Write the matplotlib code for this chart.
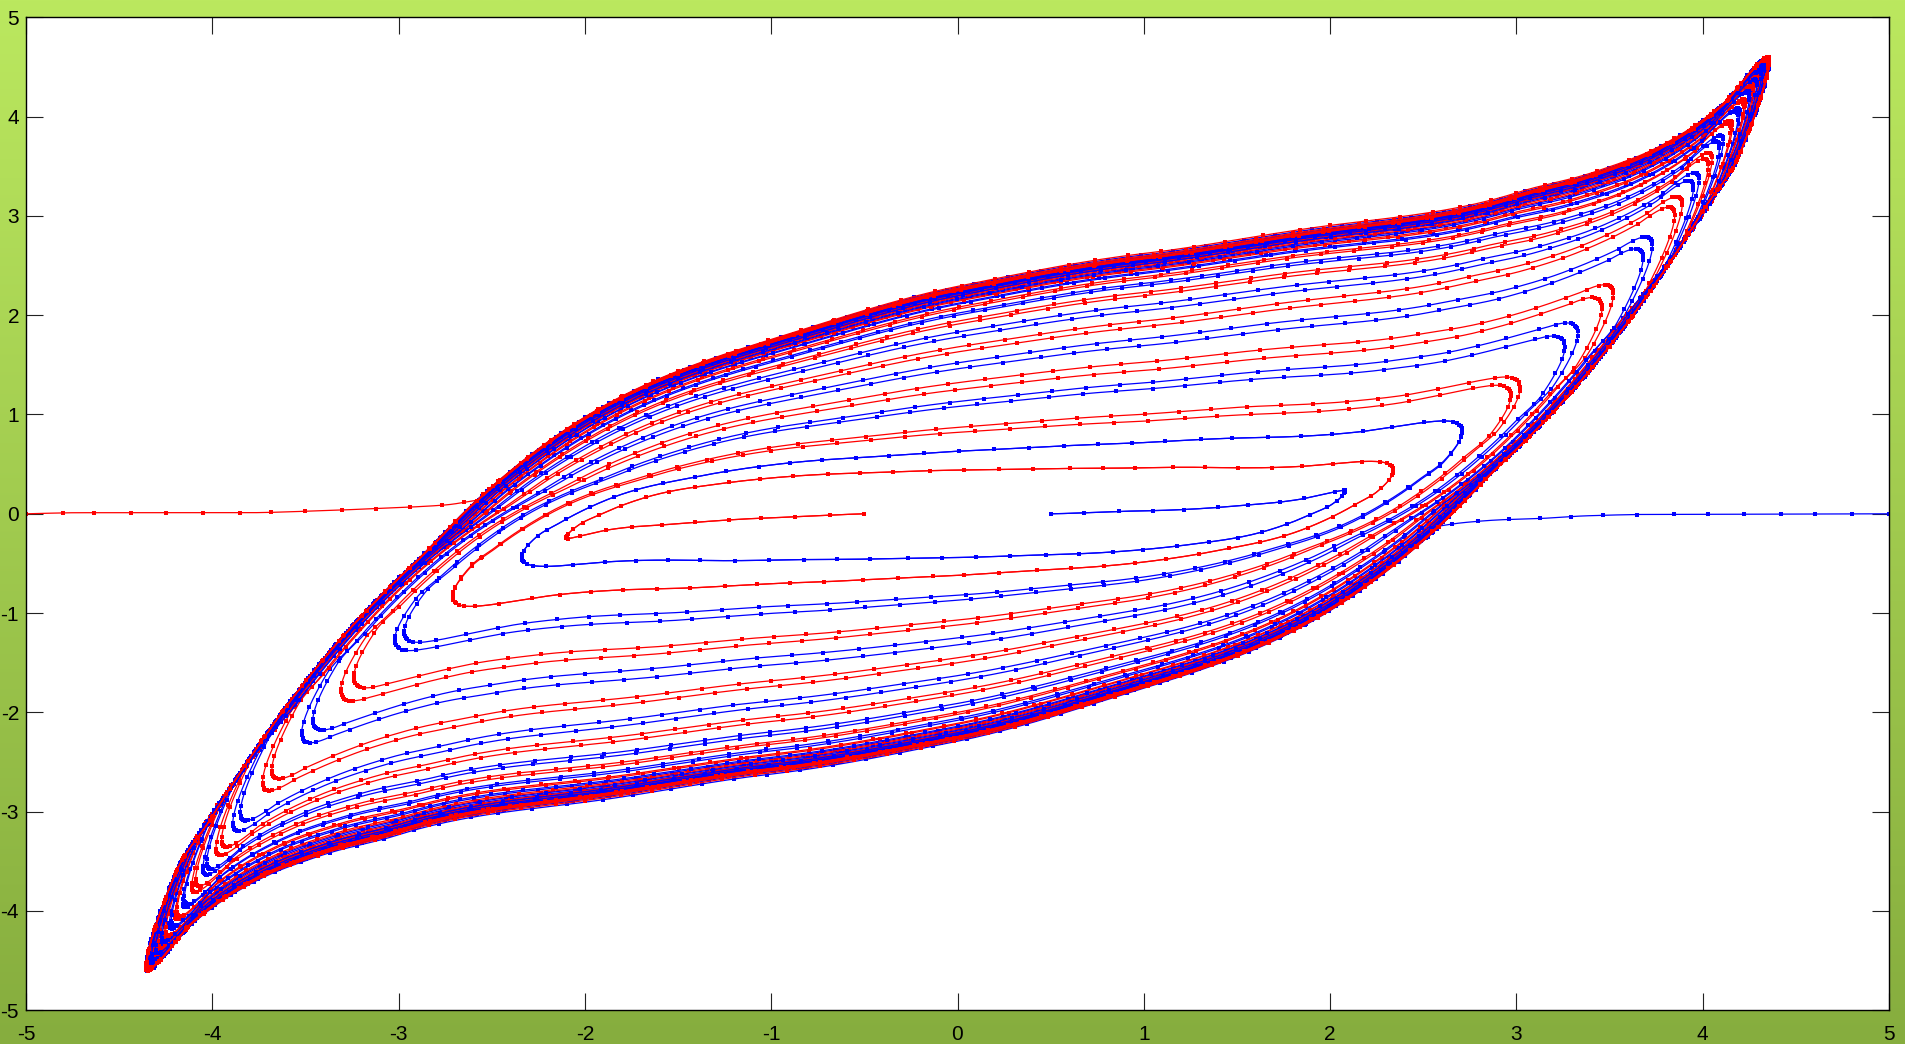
import numpy as np
import matplotlib
matplotlib.use("Agg")
import matplotlib.pyplot as plt

# ---------------------------------------------------------------------------
# Phase portrait data (x horizontal, y vertical)
# ---------------------------------------------------------------------------
# x-nullcline on which every trajectory turns: y = NC3*x^3 - NC1*x
NC3, NC1 = 0.0638, 0.1644

# upper branch of the limit cycle (moving right); the lower branch is its point image
cycle_top_x = [-4.35, -4.18, -4.00, -3.64, -3.28, -2.93, -2.57, -2.00, -1.00, 0.00,
               1.00, 2.00, 3.00, 3.42, 3.78, 4.13, 4.35]
cycle_top_y = [-4.54, -3.55, -3.05, -2.04, -1.20, -0.53, 0.14, 0.95, 1.72, 2.24,
               2.56, 2.84, 3.18, 3.40, 3.68, 4.15, 4.54]

# first upper pass of the inner red trajectory
inner_top_x = [-2.10, -2.02, -1.92, -1.69, -1.28, -0.59, 0.00, 0.71, 1.30, 1.88, 2.34]
inner_top_y = [-0.246, -0.094, -0.006, 0.16, 0.307, 0.414, 0.45, 0.47, 0.48, 0.49, 0.433]

# inner red trajectory: start piece from (-0.5, 0)
red_start_x = [-0.50, -1.00, -1.50, -1.90, -2.10]
red_start_y = [0.00, -0.04, -0.10, -0.17, -0.246]
# turning points (x) and height at x = 0 of each pass between them
red_a_turn_x = [-2.10, 2.34, -2.71, 3.02, -3.31, 3.52, -3.73, 3.89, -3.98, 4.05, -4.11, 4.16,
                -4.20, 4.23, -4.26, 4.28, -4.30, 4.31, -4.32, 4.33, -4.335, 4.34, -4.343,
                4.346, -4.348, 4.35]
red_a_mid_y = [0.44, -0.62, 0.87, -1.12, 1.32, -1.50, 1.68, -1.82, 1.94, -2.02, 2.08, -2.12,
               2.15, -2.17, 2.19, -2.20, 2.21, -2.22, 2.225, -2.23, 2.233, -2.236, 2.238,
               -2.239, 2.24]
red_b_turn_x = [-2.10, 2.34, -2.71, 2.97, -3.24, 3.46, -3.68, 3.85, -3.95, 4.03, -4.09, 4.15,
                -4.19, 4.22, -4.25, 4.27, -4.29, 4.305, -4.315, 4.325, -4.33, 4.338, -4.342,
                4.345, -4.347, 4.349]
red_b_mid_y = [0.44, -0.62, 0.82, -1.07, 1.25, -1.45, 1.63, -1.78, 1.91, -2.00, 2.06, -2.11,
               2.14, -2.16, 2.18, -2.195, 2.205, -2.215, 2.22, -2.227, 2.231, -2.234, 2.237,
               -2.238, 2.239]

# inner blue trajectory: start piece from (0.5, 0)
blue_start_x = [0.50, 1.00, 1.50, 1.85, 2.08]
blue_start_y = [0.00, 0.03, 0.08, 0.15, 0.232]
blue_a_turn_x = [2.08, -2.34, 2.71, -3.02, 3.33, -3.52, 3.73, -3.89, 3.98, -4.05, 4.11, -4.16,
                 4.20, -4.23, 4.26, -4.28, 4.30, -4.31, 4.32, -4.33, 4.335, -4.34, 4.343,
                 -4.346, 4.348, -4.35]
blue_a_mid_y = [-0.44, 0.63, -0.87, 1.13, -1.32, 1.52, -1.68, 1.83, -1.94, 2.02, -2.08, 2.12,
                -2.15, 2.17, -2.19, 2.20, -2.21, 2.22, -2.225, 2.23, -2.233, 2.236, -2.238,
                2.239, -2.24]
blue_b_turn_x = [2.08, -2.34, 2.71, -2.97, 3.26, -3.46, 3.68, -3.85, 3.95, -4.03, 4.09, -4.15,
                 4.19, -4.22, 4.25, -4.27, 4.29, -4.305, 4.315, -4.325, 4.33, -4.338, 4.342,
                 -4.345, 4.347, -4.349]
blue_b_mid_y = [-0.44, 0.63, -0.82, 1.08, -1.25, 1.46, -1.63, 1.78, -1.91, 2.00, -2.06, 2.11,
                -2.14, 2.16, -2.18, 2.195, -2.205, 2.215, -2.22, 2.227, -2.231, 2.234, -2.237,
                2.238, -2.239]

# outer trajectories starting at (-5, 0) and (5, 0)
red_tail_x = [-5.00, -4.71, -4.26, -3.82, -3.46, -3.10, -2.75, -2.57]
red_tail_y = [0.000, 0.011, 0.011, 0.011, 0.028, 0.055, 0.089, 0.140]
red_tail_turn_x = [4.358, -4.357, 4.356, -4.355, 4.354, -4.353, 4.352, -4.351, 4.35, -4.35]
red_tail_mid_y = [2.29, -2.28, 2.271, -2.264, 2.258, -2.253, 2.25, -2.247, 2.245, -2.243]
blue_tail_x = [5.00, 4.71, 4.26, 3.77, 3.38, 3.15, 2.92, 2.71, 2.58]
blue_tail_y = [0.000, -0.002, -0.004, -0.005, -0.020, -0.045, -0.060, -0.090, -0.125]
blue_tail_turn_x = [-4.358, 4.357, -4.356, 4.355, -4.354, 4.353, -4.352, 4.351, -4.35, 4.35]
blue_tail_mid_y = [-2.29, 2.28, -2.271, 2.264, -2.258, 2.253, -2.25, 2.247, -2.245, 2.243]

x_ticks = [-5, -4, -3, -2, -1, 0, 1, 2, 3, 4, 5]
y_ticks = [-5, -4, -3, -2, -1, 0, 1, 2, 3, 4, 5]

RED = '#ff0000'
BLUE = '#0000ff'
PX_X, PX_Y = 186.3, 99.3   # pixels per data unit, used for marker spacing


def nullcline(x):
    return NC3 * x ** 3 - NC1 * x


def env(u):
    return 2.0 * np.sqrt(np.clip(u * (1.0 - u), 0.0, None))


def pchip(xk, yk, xq):
    """Shape-preserving piecewise cubic interpolation (flat outside the nodes)."""
    xk = np.asarray(xk, float)
    yk = np.asarray(yk, float)
    hk = np.diff(xk)
    dk = np.diff(yk) / hk
    n = len(xk)
    m = np.zeros(n)
    m[0], m[-1] = dk[0], dk[-1]
    for i in range(1, n - 1):
        if dk[i - 1] * dk[i] > 0:
            w1 = 2 * hk[i] + hk[i - 1]
            w2 = hk[i] + 2 * hk[i - 1]
            m[i] = (w1 + w2) / (w1 / dk[i - 1] + w2 / dk[i])
    xq = np.clip(np.asarray(xq, float), xk[0], xk[-1])
    i = np.clip(np.searchsorted(xk, xq) - 1, 0, n - 2)
    t = (xq - xk[i]) / hk[i]
    t2, t3 = t * t, t * t * t
    return ((2 * t3 - 3 * t2 + 1) * yk[i] + (t3 - 2 * t2 + t) * hk[i] * m[i]
            + (-2 * t3 + 3 * t2) * yk[i + 1] + (t3 - t2) * hk[i] * m[i + 1])


def pass_profile(px, py):
    """Offset above the nullcline, normalised by a square-root envelope."""
    px = np.asarray(px, float)
    py = np.asarray(py, float)
    u = (px - px[0]) / (px[-1] - px[0])
    v = py - nullcline(px)
    h = v[1:-1] / env(u[1:-1])
    v0 = float(np.interp(0.0, px, v))
    return u[1:-1], h, v0


U_IN, H_IN, V_IN = pass_profile(inner_top_x, inner_top_y)
U_CY, H_CY, V_CY = pass_profile(cycle_top_x, cycle_top_y)
CYCLE_A = cycle_top_x[-1]


def upper_pass(a_left, a_right, mid, n=380):
    """Pass moving right from turning point -a_left to +a_right, height `mid` at x = 0."""
    t = np.linspace(0.0, 1.0, n)
    u = 0.5 * (1.0 - np.cos(np.pi * t))
    w = a_left + a_right
    x = -a_left + w * u
    lam = min(max((abs(mid) - V_IN) / (V_CY - V_IN), 0.0), 1.0)

    def shape(q):
        return ((1.0 - lam) * pchip(U_IN, H_IN, q) / V_IN
                + lam * pchip(U_CY, H_CY, q) / V_CY)

    u0 = a_left / w
    v = abs(mid) * env(u) * shape(u) / (env(u0) * shape(u0))
    return x, nullcline(x) + v


def one_pass(a, b, mid):
    if a < 0:
        return upper_pass(-a, b, mid)
    x, y = upper_pass(a, -b, -mid)
    return -x, -y


def start_piece(sx, sy, n=220):
    sx = np.asarray(sx, float)
    sy = np.asarray(sy, float)
    un = (sx - sx[0]) / (sx[-1] - sx[0])
    hn = (sy - nullcline(sx))[:-1] / np.sqrt(1.0 - un[:-1])
    t = np.linspace(0.0, 1.0, n)
    u = np.sin(0.5 * np.pi * t) ** 2
    x = sx[0] + (sx[-1] - sx[0]) * u
    v = pchip(un[:-1], hn, u) * np.sqrt(1.0 - u)
    return x, nullcline(x) + v


def inner_trajectory(sx, sy, turns, mids):
    x, y = start_piece(sx, sy)
    xs, ys = [x], [y]
    for k in range(len(turns) - 1):
        px, py = one_pass(turns[k], turns[k + 1], mids[k])
        xs.append(px[1:])
        ys.append(py[1:])
    return np.concatenate(xs), np.concatenate(ys)


def outer_trajectory(tx, ty, turns, mids, n=160):
    tx = np.asarray(tx, float)
    ty = np.asarray(ty, float)
    x = np.linspace(tx[0], tx[-1], n)
    order = np.argsort(tx)
    y = pchip(tx[order], ty[order], x)
    xs, ys = [x], [y]
    b = turns[0]
    if b > 0:
        px, py = upper_pass(CYCLE_A, b, mids[0])
        keep = px > tx[-1]
    else:
        px, py = upper_pass(CYCLE_A, -b, -mids[0])
        px, py = -px, -py
        keep = px < tx[-1]
    xs.append(px[keep])
    ys.append(py[keep])
    for k in range(len(turns) - 1):
        px, py = one_pass(turns[k], turns[k + 1], mids[k + 1])
        xs.append(px[1:])
        ys.append(py[1:])
    return np.concatenate(xs), np.concatenate(ys)


def marker_points(x, y, step_px=36.0, turn_rad=0.26):
    """Solver-like sample points: sparse on straight runs, dense in tight turns."""
    qx, qy = x * PX_X, y * PX_Y
    dx, dy = np.diff(qx), np.diff(qy)
    ds = np.hypot(dx, dy)
    ok = ds > 1e-9
    ang = np.arctan2(dy, dx)
    cost = ds / step_px
    dth = np.abs(np.angle(np.exp(1j * np.diff(ang))))
    dth[~(ok[1:] & ok[:-1])] = 0.0
    cost[1:] += dth / turn_rad
    c = np.concatenate([[0.0], np.cumsum(cost)])
    idx = np.nonzero(np.diff(np.floor(c)) > 0)[0] + 1
    idx = np.concatenate([[0], idx])
    return x[idx], y[idx]


trajectories = [
    (inner_trajectory(red_start_x, red_start_y, red_a_turn_x, red_a_mid_y), RED),
    (inner_trajectory(blue_start_x, blue_start_y, blue_a_turn_x, blue_a_mid_y), BLUE),
    (inner_trajectory(red_start_x, red_start_y, red_b_turn_x, red_b_mid_y), RED),
    (inner_trajectory(blue_start_x, blue_start_y, blue_b_turn_x, blue_b_mid_y), BLUE),
    (outer_trajectory(blue_tail_x, blue_tail_y, blue_tail_turn_x, blue_tail_mid_y), BLUE),
    (outer_trajectory(red_tail_x, red_tail_y, red_tail_turn_x, red_tail_mid_y), RED),
]

# ---------------------------------------------------------------------------
# Figure
# ---------------------------------------------------------------------------
plt.rcParams['font.family'] = ['Liberation Sans', 'DejaVu Sans']
plt.rcParams['axes.unicode_minus'] = False

fig = plt.figure(figsize=(19.05, 10.44), dpi=100)

# green vertical gradient behind the axes
bg = fig.add_axes([0, 0, 1, 1], zorder=0)
g = np.linspace(0.0, 1.0, 512)[:, None, None]
c_top = np.array([187, 232, 95]) / 255.0
c_bot = np.array([134, 173, 62]) / 255.0
bg.imshow(c_top * (1 - g) + c_bot * g, aspect='auto', extent=[0, 1, 0, 1])
bg.set_axis_off()

ax = fig.add_axes([26 / 1905, 33.7 / 1044, 1863 / 1905, 993 / 1044], zorder=1)
ax.set_facecolor('white')

for (x, y), col in trajectories:
    ax.plot(x, y, '-', color=col, lw=0.9, solid_joinstyle='round')
    mx, my = marker_points(x, y)
    ax.plot(mx, my, ls='none', marker='s', ms=2.5, mew=0, color=col)

ax.set_xlim(-5, 5)
ax.set_ylim(-5, 5)
ax.set_xticks(x_ticks)
ax.set_yticks(y_ticks)
ax.set_xticklabels([str(v) for v in x_ticks])
ax.set_yticklabels([str(v) for v in y_ticks])
ax.tick_params(axis='both', direction='in', length=12.5, width=0.8, color='#222222',
               top=True, right=True, labelsize=15, labelcolor='black')
ax.tick_params(axis='x', pad=10.5)
ax.tick_params(axis='y', pad=5.0)
for s in ax.spines.values():
    s.set_linewidth(1.0)
    s.set_color('black')

fig.savefig('out.png', dpi=100)
